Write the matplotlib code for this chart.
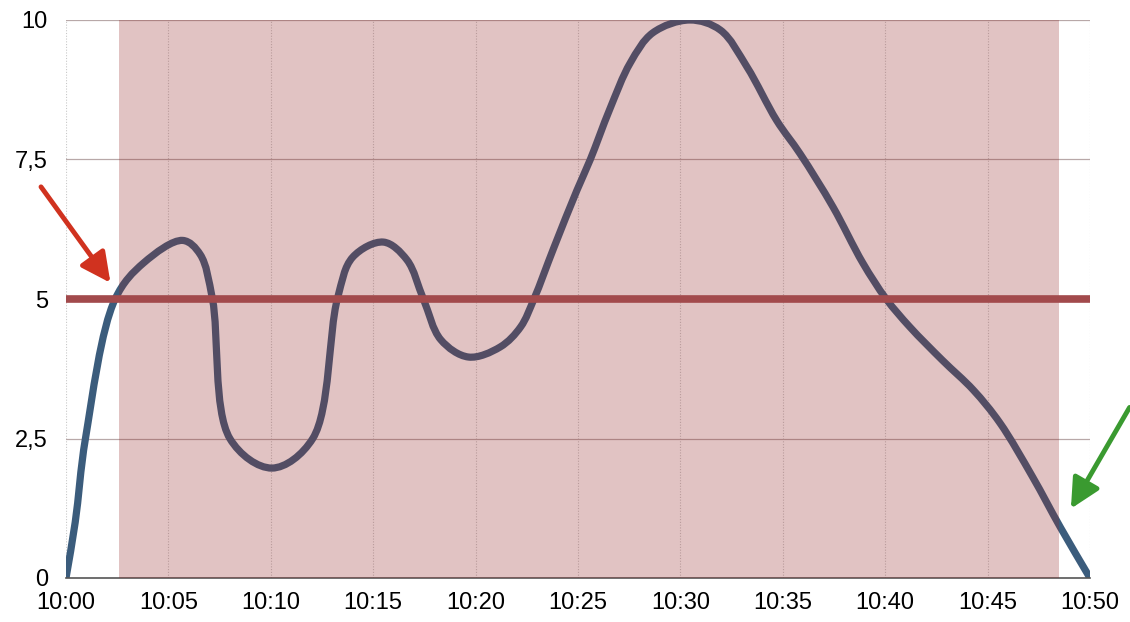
import numpy as np
import matplotlib.pyplot as plt
from matplotlib.path import Path
from matplotlib.patches import PathPatch

# minutes after 10:00 and value
minutes = [0, 0.45, 0.95, 2.4, 3.8, 5.7, 6.55, 7.15, 8.0, 10.05, 12.05,
           13.25, 14.0, 15.5, 16.65, 17.45, 18.3, 19.65, 21.2, 22.2, 22.85, 23.8, 24.95,
           25.6, 26.55, 27.55, 28.65, 30.45, 31.95, 33.25, 34.7, 35.85, 37.45, 38.9, 40.05,
           41.2, 42.8, 44.3, 45.6, 47.2, 48.55, 50]
values = [0, 1.0, 2.5, 5.0, 5.65, 6.05, 5.8, 5.0, 2.5, 1.97, 2.5,
          5.0, 5.75, 6.02, 5.7, 5.0, 4.27, 3.96, 4.14, 4.5, 5.0, 5.9, 6.95,
          7.5, 8.4, 9.23, 9.77, 10.0, 9.82, 9.16, 8.2, 7.6, 6.65, 5.65, 5.0,
          4.5, 3.9, 3.37, 2.78, 1.81, 0.91, 0]

threshold = 5
band_start, band_end = 2.6, 48.5
tick_minutes = list(range(0, 51, 5))
tick_labels = ['10:%02d' % m for m in tick_minutes]
ytick_values = [0, 2.5, 5, 7.5, 10]
ytick_labels = ['0', '2,5', '5', '7,5', '10']

plt.rcParams['font.family'] = ['Liberation Sans', 'DejaVu Sans']

fig = plt.figure(figsize=(11.3, 6.22), dpi=100)
ax = fig.add_axes([66 / 1130, 44 / 622, 1024 / 1130, 558 / 622])
ax.set_xlim(0, 50)
ax.set_ylim(0, 10)

# grid
for m in tick_minutes:
    ax.axvline(m, color='#c8c8c8', lw=0.8, ls=(0, (1, 1.5)), zorder=0)
for v in [2.5, 7.5, 10]:
    ax.axhline(v, color='#b8a8a8', lw=0.9, zorder=0)

# smooth curve through the read points: centripetal Catmull-Rom drawn as a Bezier path
sx, sy = 20.48, 55.8  # approx screen scale, only used to weight the knots
P = np.column_stack([np.array(minutes) * sx, np.array(values) * sy])
P = np.vstack([2 * P[0] - P[1], P, 2 * P[-1] - P[-2]])
t = np.concatenate([[0], np.cumsum(np.hypot(*np.diff(P, axis=0).T) ** 0.5)])
verts = [(minutes[0], values[0])]
codes = [Path.MOVETO]
for i in range(1, len(P) - 2):
    p0, p1, p2, p3 = P[i - 1], P[i], P[i + 1], P[i + 2]
    t0, t1, t2, t3 = t[i - 1], t[i], t[i + 1], t[i + 2]
    m1 = (p1 - p0) / (t1 - t0) - (p2 - p0) / (t2 - t0) + (p2 - p1) / (t2 - t1)
    m2 = (p2 - p1) / (t2 - t1) - (p3 - p1) / (t3 - t1) + (p3 - p2) / (t3 - t2)
    h = (t2 - t1) / 3
    for q in (p1 + m1 * h, p2 - m2 * h, p2):
        verts.append((q[0] / sx, q[1] / sy))
    codes += [Path.CURVE4] * 3
curve = PathPatch(Path(verts, codes), facecolor='none', edgecolor='#3b5c7c',
                  lw=5.2, capstyle='round', joinstyle='round', zorder=2)
ax.add_patch(curve)

# tinted band on top of the curve
ax.axvspan(band_start, band_end, color='#942929', alpha=0.28, lw=0, zorder=3)

# threshold line
ax.axhline(threshold, color='#a24a4c', lw=5.5, zorder=4)

# arrows
ax.annotate('', xy=(2.25, 5.25), xytext=(-1.3, 7.05), annotation_clip=False,
            arrowprops=dict(arrowstyle='-|>,head_length=0.9,head_width=0.45',
                            color='#d0321f', lw=3.5, mutation_scale=20), zorder=5)
ax.annotate('', xy=(49.0, 1.2), xytext=(52.0, 3.1), annotation_clip=False,
            arrowprops=dict(arrowstyle='-|>,head_length=0.9,head_width=0.45',
                            color='#3a9a30', lw=3.5, mutation_scale=20), zorder=5)

for s in ['top', 'right', 'left']:
    ax.spines[s].set_visible(False)
ax.spines['bottom'].set_color('#555555')
ax.spines['bottom'].set_linewidth(1.2)

ax.set_xticks(tick_minutes)
ax.set_xticklabels(tick_labels, fontsize=17)
ax.set_yticks(ytick_values)
ax.set_yticklabels(ytick_labels, fontsize=17)
ax.tick_params(length=0)
ax.tick_params(axis='y', pad=13)
ax.tick_params(axis='x', pad=10)

fig.savefig('out.png', dpi=100)
